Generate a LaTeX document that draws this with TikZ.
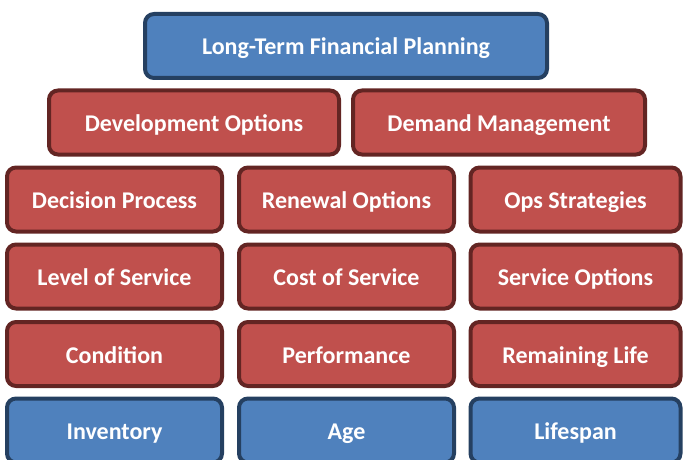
\documentclass[tikz,border=0pt]{standalone}
\usepackage{fontspec}
\setmainfont{Carlito}
\usepackage{xcolor}
\usepackage{tikz}
\definecolor{planblue}{RGB}{79,129,189}
\definecolor{planblueline}{RGB}{37,64,97}
\definecolor{planred}{RGB}{192,80,77}
\definecolor{planredline}{RGB}{99,37,35}
\tikzstyle{bluebox} = [draw=planblueline,fill=planblue,line width=4pt,rounded corners=9pt,text=white,font=\fontsize{24}{28}\selectfont\bfseries,text height=19pt,text depth=1pt,minimum height=64pt,inner sep=0pt]
\tikzstyle{redbox} = [bluebox,draw=planredline,fill=planred]
\tikzstyle{colbox} = [minimum width=215pt]

\begin{document}
\begin{tikzpicture}[x=1pt,y=-1pt]
          % frame
          \useasboundingbox (0,0) rectangle (683,460);
          \clip (0,0) rectangle (683,460);
          % top of the stack
          \node[bluebox,minimum width=402pt] (ltfp) at (346,46) {Long-Term Financial Planning};
          \node[redbox,minimum width=290pt] (devopt) at (194,122.5) {Development Options};
          \node[redbox,minimum width=292pt] (demand) at (499,122.5) {Demand Management};
          % three columns
          \node[redbox,colbox] (decision) at (114.5,199.5) {Decision Process};
          \node[redbox,colbox] (renewal) at (346.5,199.5) {Renewal Options};
          \node[redbox,colbox,minimum width=210pt] (ops) at (575.5,199.5) {Ops Strategies};
          \node[redbox,colbox] (los) at (114.5,276.5) {Level of Service};
          \node[redbox,colbox] (cos) at (346.5,276.5) {Cost of Service};
          \node[redbox,colbox,minimum width=210pt] (svcopt) at (575.5,276.5) {Service Options};
          \node[redbox,colbox] (cond) at (114.5,354) {Condition};
          \node[redbox,colbox] (perf) at (346.5,354) {Performance};
          \node[redbox,colbox,minimum width=210pt] (life) at (575.5,354) {Remaining Life};
          % base
          \node[bluebox,colbox] (inv) at (114.5,430.5) {Inventory};
          \node[bluebox,colbox] (age) at (346.5,430.5) {Age};
          \node[bluebox,colbox,minimum width=210pt] (span) at (575.5,430.5) {Lifespan};
      \end{tikzpicture}
\end{document}
